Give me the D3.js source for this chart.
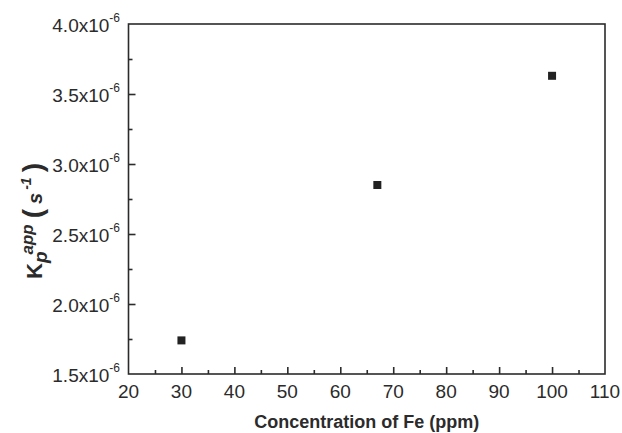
<!DOCTYPE html>
<html>
<head>
<meta charset="utf-8">
<script src="https://cdn.jsdelivr.net/npm/d3@7/dist/d3.min.js"></script>
<style>
  html, body { margin: 0; padding: 0; background: #fff; }
  svg { display: block; font-family: "Liberation Sans", Arial, Helvetica, sans-serif; }
</style>
</head>
<body>
<svg id="chart" width="622" height="433"></svg>
<script>
// Fe concentration (ppm) and apparent propagation rate constant (units of 1e-6 s^-1)
const feConc = [30, 67, 100];
const kpApp = [1.74, 2.85, 3.63];

const xTicks = [20, 30, 40, 50, 60, 70, 80, 90, 100, 110];
const yTicks = [1.5, 2.0, 2.5, 3.0, 3.5, 4.0];
const yExponent = "-6";

const xTitle = "Concentration of Fe (ppm)";

const margin = { left: 128.5, right: 17, top: 24, bottom: 59 };
const W = 622, H = 433;
const ink = "#2b2b2b";

const svg = d3.select("#chart");

const x = d3.scaleLinear().domain([20, 110]).range([margin.left, W - margin.right]);
const y = d3.scaleLinear().domain([1.5, 4.0]).range([H - margin.bottom, margin.top]);

const x0 = x.range()[0], x1 = x.range()[1];
const y0 = y.range()[0], y1 = y.range()[1];

// frame
svg.append("rect")
  .attr("x", x0).attr("y", y1)
  .attr("width", x1 - x0).attr("height", y0 - y1)
  .attr("fill", "none").attr("stroke", ink).attr("stroke-width", 1.6);

// x axis: inward major ticks, minor ticks between
const xMinor = d3.range(25, 110, 10);
const xg = svg.append("g").attr("transform", `translate(0,${y0})`)
  .call(d3.axisTop(x).tickValues(xTicks).tickSize(7).tickFormat(""));
xg.select(".domain").remove();
xg.selectAll(".tick line").attr("stroke", ink).attr("stroke-width", 1.6);
xg.selectAll(".tick").filter(d => d === 20 || d === 110).remove();
const xmg = svg.append("g").attr("transform", `translate(0,${y0})`)
  .call(d3.axisTop(x).tickValues(xMinor).tickSize(4).tickFormat(""));
xmg.select(".domain").remove();
xmg.selectAll(".tick line").attr("stroke", ink).attr("stroke-width", 1.6);

svg.append("g").selectAll("text").data(xTicks).join("text")
  .attr("x", d => x(d)).attr("y", y0 + 24)
  .attr("text-anchor", "middle")
  .attr("font-size", 19).attr("fill", ink)
  .text(d => d);

// y axis: inward major ticks, minor ticks between
const yMinor = d3.range(1.75, 4.0, 0.5);
const yg = svg.append("g").attr("transform", `translate(${x0},0)`)
  .call(d3.axisRight(y).tickValues(yTicks).tickSize(7).tickFormat(""));
yg.select(".domain").remove();
yg.selectAll(".tick line").attr("stroke", ink).attr("stroke-width", 1.6);
yg.selectAll(".tick").filter(d => d === 1.5 || d === 4.0).remove();
const ymg = svg.append("g").attr("transform", `translate(${x0},0)`)
  .call(d3.axisRight(y).tickValues(yMinor).tickSize(4).tickFormat(""));
ymg.select(".domain").remove();
ymg.selectAll(".tick line").attr("stroke", ink).attr("stroke-width", 1.6);

const yl = svg.append("g").selectAll("text").data(yTicks).join("text")
  .attr("x", 120).attr("y", d => y(d) + 8)
  .attr("text-anchor", "end")
  .attr("font-size", 19).attr("fill", ink);
yl.append("tspan").text(d => d3.format(".1f")(d) + "x10");
yl.append("tspan").attr("font-size", 12).attr("dy", -10).text(yExponent);

// markers
const sz = 8;
svg.append("g").selectAll("rect").data(feConc.map((c, i) => [c, kpApp[i]])).join("rect")
  .attr("x", d => x(d[0]) - sz / 2).attr("y", d => y(d[1]) - sz / 2)
  .attr("width", sz).attr("height", sz)
  .attr("fill", "#222");

// axis titles
svg.append("text")
  .attr("x", (x0 + x1) / 2).attr("y", 428)
  .attr("text-anchor", "middle")
  .attr("font-size", 18).attr("font-weight", "bold").attr("fill", ink)
  .text(xTitle);

const yt = svg.append("text")
  .attr("transform", "translate(42,279) rotate(-90)")
  .attr("font-weight", "bold").attr("fill", ink);
yt.append("tspan").attr("font-size", 22).text("K");
yt.append("tspan").attr("font-size", 19).attr("font-style", "italic").attr("dy", 5).text("p");
yt.append("tspan").attr("font-size", 17).attr("font-style", "italic").attr("dx", -3).attr("dy", -14).text("app");
yt.append("tspan").attr("font-size", 28).attr("dx", 6).attr("dy", 9).text("(");
yt.append("tspan").attr("font-size", 20).attr("font-style", "italic").attr("dx", 5).text("s");
yt.append("tspan").attr("font-size", 14).attr("font-style", "italic").attr("dx", 3).attr("dy", -11).text("-1");
yt.append("tspan").attr("font-size", 28).attr("dx", 5).attr("dy", 11).text(")");
</script>
</body>
</html>
